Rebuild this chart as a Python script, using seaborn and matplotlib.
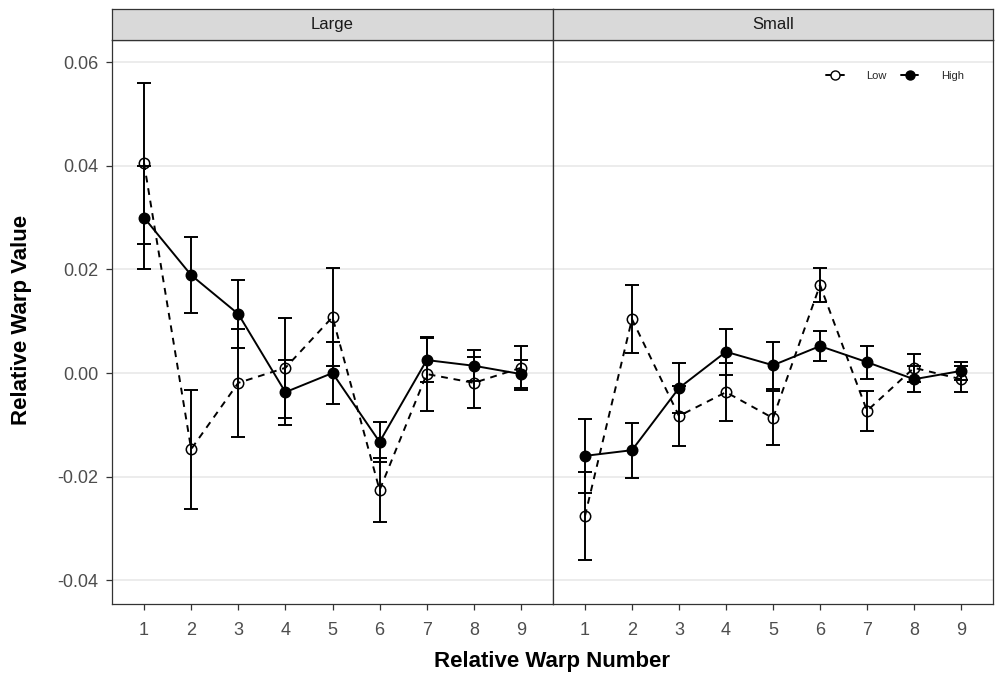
import pandas as pd
import seaborn as sns
import matplotlib.pyplot as plt
from matplotlib.lines import Line2D

# relative warp numbers and the two panels
warp = [1, 2, 3, 4, 5, 6, 7, 8, 9]
panels = ['Large', 'Small']
groups = ['Low', 'High']

# values (mean and +/- error)
large_low = [0.0405, -0.0147, -0.0019, 0.0010, 0.0108, -0.0226, -0.0002, -0.0019, 0.0010]
large_low_err = [0.0155, 0.0115, 0.0104, 0.0097, 0.0094, 0.0062, 0.0071, 0.0049, 0.0042]
large_high = [0.0300, 0.0189, 0.0114, -0.0037, 0.0000, -0.0133, 0.0025, 0.0014, -0.0002]
large_high_err = [0.0099, 0.0074, 0.0066, 0.0063, 0.0060, 0.0038, 0.0043, 0.0030, 0.0027]

small_low = [-0.0276, 0.0104, -0.0083, -0.0037, -0.0087, 0.0170, -0.0073, 0.0010, -0.0012]
small_low_err = [0.0085, 0.0065, 0.0058, 0.0056, 0.0052, 0.0033, 0.0039, 0.0027, 0.0025]
small_high = [-0.0160, -0.0149, -0.0029, 0.0041, 0.0015, 0.0052, 0.0021, -0.0012, 0.0004]
small_high_err = [0.0071, 0.0053, 0.0048, 0.0044, 0.0045, 0.0029, 0.0032, 0.0025, 0.0017]

rows = []
for panel, lo, lo_e, hi, hi_e in [('Large', large_low, large_low_err, large_high, large_high_err),
                                  ('Small', small_low, small_low_err, small_high, small_high_err)]:
    for i, w in enumerate(warp):
        rows.append((panel, 'Low', w, lo[i], lo_e[i]))
        rows.append((panel, 'High', w, hi[i], hi_e[i]))
df = pd.DataFrame(rows, columns=['Size', 'Group', 'Warp', 'Value', 'Err'])

sns.set_theme(style='white')
plt.rcParams['font.family'] = ['Liberation Sans', 'DejaVu Sans']

W, H = 998, 676
fig = plt.figure(figsize=(W / 100, H / 100), dpi=100)

top, bottom = 40, 604
lefts = [112, 553]
widths = [441, 440]

styles = {'Low': dict(ls=(0, (3.5, 3)), mfc='none'),
          'High': dict(ls='-', mfc='black')}

axes = []
for k, panel in enumerate(panels):
    ax = fig.add_axes([lefts[k] / W, 1 - bottom / H, widths[k] / W, (bottom - top) / H])
    sub = df[df['Size'] == panel]
    for g in groups:
        d = sub[sub['Group'] == g]
        ax.errorbar(d['Warp'], d['Value'], yerr=d['Err'], fmt='none', ecolor='black',
                    elinewidth=1.4, capsize=5, capthick=1.4, zorder=2)
        sns.lineplot(data=d, x='Warp', y='Value', ax=ax, color='black', lw=1.4,
                     linestyle=styles[g]['ls'], marker='o', markersize=7.5,
                     markerfacecolor=styles[g]['mfc'], markeredgecolor='black',
                     markeredgewidth=1.1, zorder=3)
    ax.set_xlim(0.32, 9.68)
    ax.set_ylim(-0.0446, 0.0643)
    ax.set_xticks(warp)
    ax.set_yticks([-0.04, -0.02, 0.0, 0.02, 0.04, 0.06])
    ax.yaxis.grid(True, color='#EBEBEB', lw=1.3)
    ax.xaxis.grid(False)
    ax.set_axisbelow(True)
    for s in ax.spines.values():
        s.set_color('#333333')
        s.set_linewidth(0.9)
    ax.tick_params(axis='both', colors='#333333', labelcolor='#4D4D4D', labelsize=13,
                   length=4, width=0.9, direction='out', pad=6, left=(k == 0), bottom=True)
    ax.tick_params(axis='x', pad=9)
    ax.set_xlabel('')
    ax.set_ylabel('')
    if k == 0:
        ax.set_yticklabels(['-0.04', '-0.02', '0.00', '0.02', '0.04', '0.06'])
    else:
        ax.set_yticklabels([])
    # facet strip
    sx = fig.add_axes([lefts[k] / W, 1 - top / H, widths[k] / W, 31 / H])
    sx.set_facecolor('#D9D9D9')
    sx.set_xticks([])
    sx.set_yticks([])
    for s in sx.spines.values():
        s.set_color('#333333')
        s.set_linewidth(0.9)
    sx.text(0.5, 0.5, panel, ha='center', va='center', fontsize=12, color='#1A1A1A')
    axes.append(ax)

handles = [Line2D([], [], color='black', lw=1.4, marker='o', markersize=6.5,
                  markerfacecolor='white', markeredgecolor='black'),
           Line2D([], [], color='black', lw=1.4, marker='o', markersize=6.5,
                  markerfacecolor='black')]
axes[1].legend(handles, groups, ncol=2, frameon=False, fontsize=8,
               loc='center', bbox_to_anchor=((895 - 553) / 440, (604 - 76) / 564),
               handlelength=1.6, columnspacing=1.25, handletextpad=2.0)

fig.text(22 / W, 1 - 320 / H, 'Relative Warp Value', rotation=90, ha='center', va='center',
         fontsize=16, fontweight='bold', color='black')
fig.text(552 / W, 1 - 662 / H, 'Relative Warp Number', ha='center', va='center',
         fontsize=16, fontweight='bold', color='black')

fig.savefig('out.png', dpi=100)
